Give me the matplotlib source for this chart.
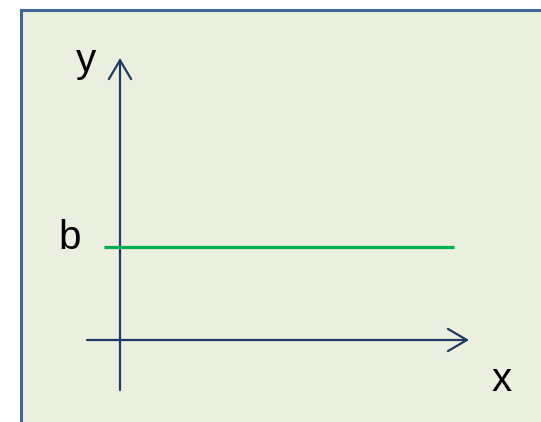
import matplotlib.pyplot as plt
from matplotlib.patches import Rectangle

# ===== diagram values (math units, origin where the axes cross) =====
b_value = 2.325
line_x = [-0.4, 8.35]          # extent of the horizontal line y = b
x_axis = [-0.825, 8.725]       # x axis from tail to arrow tip
y_axis = [-1.25, 7.05]         # y axis from tail to arrow tip
labels = ['x', 'y', 'b']
label_pos = [(9.55, -1.275), (-0.85, 6.7), (-1.25, 2.275)]

bg_color = '#EBEFDF'
border_color = '#41669A'
axis_color = '#1F3A64'
line_color = '#00B050'

plt.rcParams['font.family'] = ['Liberation Sans', 'DejaVu Sans']

fig = plt.figure(figsize=(5.41, 4.22), dpi=100)
fig.patch.set_facecolor('white')

ax = fig.add_axes([0, 0, 1, 1])
ax.set_xlim(-3, 10.525)
ax.set_ylim(-2.05, 8.5)
ax.axis('off')

# panel box with border (runs off the right and bottom edges)
W, H = 541, 422
ax.add_patch(Rectangle((21 / W, -0.1), 1.2, 1 - 10 / H + 0.1,
                       transform=fig.transFigure, facecolor=bg_color,
                       edgecolor=border_color, lw=2.2, zorder=0, clip_on=False))

arrow = dict(arrowstyle='->,head_length=0.68,head_width=0.4', lw=1.6,
             color=axis_color, mutation_scale=20, shrinkA=0, shrinkB=0)
ax.annotate('', xy=(x_axis[1], 0), xytext=(x_axis[0], 0), arrowprops=arrow, zorder=2)
ax.annotate('', xy=(0, y_axis[1]), xytext=(0, y_axis[0]), arrowprops=arrow, zorder=2)

ax.plot(line_x, [b_value, b_value], color=line_color, lw=2.3,
        solid_capstyle='butt', zorder=3)

for txt, (tx, ty) in zip(labels, label_pos):
    ax.text(tx, ty, txt, fontsize=29, ha='center', va='baseline', color='black', zorder=4)

plt.savefig('out.png', dpi=100, facecolor='white')
